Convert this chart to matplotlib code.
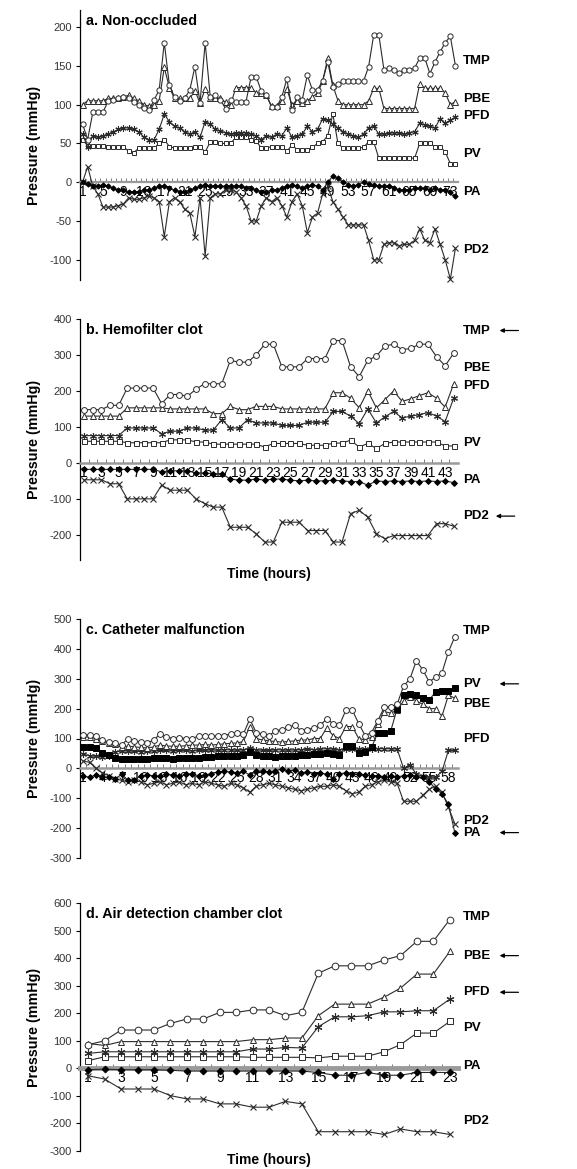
import matplotlib
matplotlib.use("Agg")
import matplotlib.pyplot as plt
import matplotlib.transforms as mtransforms

plt.rcParams['font.family'] = ['Liberation Sans', 'DejaVu Sans']

# ---------------- a. Non-occluded (74 hourly readings) ----------------
hours_a = list(range(1, 75))
tmp_a = [75, 55, 90, 90, 90, 105, 106, 108, 110, 108,
         104, 100, 96, 93, 106, 119, 180, 125, 110, 105,
         108, 119, 149, 102, 180, 110, 112, 106, 95, 106,
         103, 103, 104, 136, 136, 117, 112, 97, 97, 110,
         133, 93, 110, 106, 138, 119, 119, 131, 155, 123,
         127, 130, 130, 130, 130, 130, 149, 190, 190, 145,
         147, 145, 141, 145, 145, 147, 160, 160, 140, 155,
         168, 180, 188, 150]
pbe_a = [100, 105, 105, 105, 105, 108, 108, 108, 110, 112,
         108, 105, 100, 98, 100, 105, 148, 122, 108, 108,
         108, 108, 118, 102, 120, 108, 108, 108, 103, 100,
         122, 122, 122, 122, 115, 115, 112, 98, 98, 105,
         120, 100, 105, 102, 105, 110, 115, 130, 160, 125,
         105, 100, 100, 100, 100, 100, 105, 121, 121, 95,
         95, 95, 95, 95, 95, 95, 127, 121, 121, 121,
         121, 115, 100, 104]
pfd_a = [62, 45, 60, 58, 60, 62, 65, 68, 70, 70,
         68, 65, 58, 55, 55, 68, 88, 78, 72, 70,
         65, 62, 65, 58, 78, 75, 68, 66, 64, 62,
         63, 63, 64, 62, 60, 55, 60, 58, 62, 60,
         70, 58, 60, 62, 72, 65, 68, 82, 80, 75,
         70, 65, 62, 60, 58, 62, 70, 72, 62, 62,
         63, 64, 63, 62, 64, 65, 76, 74, 72, 70,
         82, 76, 80, 84]
pv_a = [55, 47, 47, 47, 47, 46, 46, 46, 46, 40,
        38, 44, 44, 44, 44, 50, 55, 46, 44, 44,
        44, 44, 46, 46, 39, 52, 52, 50, 50, 50,
        58, 58, 58, 55, 53, 44, 44, 46, 46, 46,
        40, 48, 42, 42, 42, 45, 50, 52, 60, 88,
        50, 44, 44, 44, 44, 45, 52, 52, 31, 31,
        31, 31, 31, 31, 31, 31, 50, 50, 50, 46,
        46, 39, 24, 24]
pa_a = [0, -2, -5, -5, -3, -5, -8, -10, -10, -12,
        -12, -12, -10, -10, -8, -5, -5, -8, -10, -12,
        -12, -10, -8, -5, -3, -5, -5, -5, -5, -5,
        -5, -5, -8, -8, -10, -12, -12, -10, -10, -8,
        -5, -3, -5, -8, -5, -3, -5, -10, 0, 8,
        5, 0, -3, -5, -3, 0, -2, -3, -5, -5,
        -5, -8, -10, -10, -10, -8, -8, -8, -10, -8,
        -10, -10, -12, -18]
pd2_a = [0, 20, -5, -15, -32, -32, -32, -30, -28, -20,
         -22, -22, -20, -18, -20, -25, -70, -25, -20, -25,
         -35, -40, -70, -20, -95, -20, -15, -15, -10, -10,
         -12, -20, -30, -50, -50, -30, -20, -25, -20, -30,
         -45, -25, -15, -30, -65, -45, -40, -15, -5, -25,
         -35, -45, -55, -55, -55, -55, -75, -100, -100, -80,
         -78, -78, -82, -80, -80, -75, -60, -75, -78, -60,
         -80, -100, -125, -85]

# ---------------- b. Hemofilter clot (44 readings) ----------------
hours_b = list(range(1, 45))
tmp_b = [148, 148, 148, 160, 160, 208, 208, 208, 208, 165,
         190, 190, 185, 205, 220, 220, 220, 285, 280, 280,
         300, 330, 330, 267, 267, 267, 290, 290, 290, 340,
         340, 267, 240, 285, 297, 325, 330, 315, 318, 330,
         330, 295, 270, 305]
pbe_b = [130, 130, 130, 130, 130, 153, 153, 153, 153, 153,
         150, 150, 150, 150, 150, 137, 137, 157, 148, 148,
         157, 157, 157, 150, 150, 150, 150, 150, 150, 195,
         195, 180, 153, 200, 153, 176, 200, 171, 178, 187,
         195, 180, 155, 220]
pfd_b = [76, 76, 76, 76, 76, 97, 97, 97, 97, 81,
         88, 88, 97, 97, 91, 91, 120, 97, 97, 120,
         111, 111, 111, 104, 104, 104, 113, 113, 113, 143,
         143, 130, 109, 150, 111, 128, 143, 125, 130, 134,
         140, 130, 115, 180]
pv_b = [60, 60, 60, 60, 60, 56, 56, 56, 56, 56,
        64, 64, 64, 58, 58, 52, 52, 52, 52, 52,
        52, 44, 54, 54, 54, 54, 49, 49, 49, 55,
        55, 63, 44, 54, 40, 54, 58, 58, 58, 58,
        58, 58, 47, 47]
pa_b = [-18, -18, -18, -18, -18, -18, -18, -18, -18, -25,
        -22, -22, -22, -28, -28, -30, -30, -45, -48, -48,
        -45, -48, -45, -45, -48, -50, -48, -50, -50, -48,
        -50, -52, -52, -62, -50, -52, -50, -52, -50, -52,
        -50, -52, -50, -55]
pd2_b = [-47, -47, -47, -58, -58, -100, -100, -100, -100, -62,
         -76, -76, -76, -100, -113, -123, -123, -179, -179, -179,
         -197, -220, -220, -165, -165, -165, -188, -188, -188, -220,
         -220, -141, -132, -151, -197, -211, -202, -202, -202, -202,
         -202, -169, -169, -176]

# ---------------- c. Catheter malfunction (59 readings) ----------------
hours_c = list(range(1, 60))
tmp_c = [112, 112, 108, 95, 88, 85, 78, 100, 92, 88,
         85, 95, 115, 105, 100, 102, 100, 98, 110, 108,
         110, 108, 110, 115, 118, 115, 165, 120, 115, 110,
         125, 130, 138, 145, 125, 130, 135, 145, 165, 150,
         145, 195, 195, 150, 110, 120, 160, 205, 205, 215,
         275, 300, 360, 330, 290, 305, 320, 390, 440]
pv_c = [70, 70, 68, 50, 45, 35, 32, 32, 32, 33,
        33, 35, 35, 35, 33, 34, 36, 35, 35, 38,
        38, 40, 40, 40, 42, 45, 55, 45, 42, 40,
        38, 40, 42, 42, 45, 45, 48, 48, 50, 48,
        45, 75, 75, 50, 55, 70, 120, 120, 125, 200,
        245, 248, 245, 235, 230, 255, 258, 260, 270]
pbe_c = [105, 105, 100, 90, 85, 80, 70, 75, 72, 70,
         68, 72, 78, 75, 74, 74, 76, 78, 78, 80,
         78, 80, 82, 84, 85, 90, 140, 100, 95, 92,
         90, 88, 90, 92, 95, 95, 100, 100, 135, 110,
         100, 140, 140, 100, 95, 105, 150, 190, 185, 195,
         225, 240, 225, 215, 200, 200, 175, 245, 235]
pfd_c = [48, 42, 40, 38, 40, 55, 58, 58, 57, 56,
         58, 58, 60, 60, 58, 60, 60, 58, 60, 60,
         62, 60, 62, 62, 60, 62, 68, 62, 60, 60,
         62, 62, 60, 62, 62, 64, 62, 64, 66, 64,
         62, 66, 66, 64, 65, 66, 66, 66, 65, 65,
         0, 12, -20, -25, -30, -30, -10, 60, 60]
pa_c = [-25, -30, -22, -30, -28, -35, -20, -40, -38, -25,
        -22, -25, -25, -20, -22, -25, -20, -18, -25, -22,
        -18, -12, -10, -12, -15, -10, -22, -10, -8, -12,
        -8, -2, -10, -5, -15, -12, -18, -15, -20, -35,
        -18, -15, -18, -20, -22, -25, -25, -28, -25, -28,
        -25, -23, -28, -30, -45, -68, -85, -120, -215]
pd2_c = [25, 20, 0, -15, -25, -35, -40, -45, -40, -45,
         -55, -50, -45, -55, -50, -45, -55, -50, -55, -45,
         -50, -55, -60, -50, -55, -65, -80, -60, -55, -50,
         -55, -60, -65, -70, -75, -70, -65, -60, -60, -55,
         -60, -75, -85, -80, -60, -55, -45, -40, -45, -50,
         -110, -110, -110, -90, -70, -60, -80, -130, -185]

# ---------------- d. Air detection chamber clot (23 readings) ----------------
hours_d = list(range(1, 24))
tmp_d = [86, 100, 139, 139, 139, 163, 179, 179, 203, 203,
         212, 212, 191, 203, 345, 372, 372, 372, 393, 409,
         461, 461, 540]
pbe_d = [90, 83, 97, 97, 97, 97, 97, 97, 97, 97,
         104, 104, 110, 110, 191, 233, 233, 233, 258, 291,
         342, 342, 424]
pfd_d = [54, 60, 60, 60, 60, 60, 60, 60, 60, 60,
         70, 70, 76, 74, 151, 187, 187, 191, 205, 205,
         209, 209, 251]
pv_d = [28, 42, 42, 42, 42, 42, 42, 42, 42, 42,
        40, 40, 40, 40, 38, 44, 44, 44, 60, 86,
        128, 128, 170]
pa_d = [-5, -3, -5, -5, -5, -7, -10, -10, -10, -10,
        -10, -10, -10, -10, -15, -25, -25, -15, -25, -25,
        -15, -15, -15]
pd2_d = [-27, -39, -75, -75, -75, -99, -111, -111, -129, -129,
         -141, -141, -120, -129, -230, -230, -230, -230, -240, -220,
         -230, -230, -240]

# ---------------- drawing ----------------
W, H = 577, 1169
fig = plt.figure(figsize=(W / 100, H / 100), dpi=100)

LINE = '#2b2b2b'
TICK = '#333333'


def add_axes(top_px, bottom_px, left_px=80, right_px=458):
    return fig.add_axes([left_px / W, 1 - bottom_px / H,
                         (right_px - left_px) / W, (bottom_px - top_px) / H])


def style(name, k=1.0):
    s = dict(color=LINE, lw=0.8, mec=LINE, mew=0.7)
    if name == 'TMP':
        s.update(marker='o', mfc='white', ms=4.2 * k)
    elif name == 'PBE':
        s.update(marker='^', mfc='white', ms=4.2 * k)
    elif name == 'PFD':
        s.update(marker=(6, 2, 0), mfc='none', ms=5 * k, mew=0.8)
    elif name == 'PV':
        s.update(marker='s', mfc='white', ms=3.6 * k)
    elif name == 'PVf':
        s.update(marker='s', mfc='black', mec='black', ms=3.8 * k)
    elif name == 'PA':
        s.update(marker='D', mfc='black', mec='black', ms=3.0 * k)
    elif name == 'PD2':
        s.update(marker='x', mfc='none', ms=4.2 * k, mew=0.8)
    return s


def setup(ax, hours, ylim, yticks, xstep, title, xlabel=None, zero_lw=1.8,
          xlabel_y=-0.03):
    n = len(hours)
    ax.set_xlim(0.5, n + 0.5)
    ax.set_ylim(*ylim)
    ax.set_yticks(yticks)
    ax.set_yticklabels([str(v) for v in yticks], fontsize=8, color=TICK)
    ax.set_xticks(hours[::xstep])
    ax.set_xticklabels([str(h) for h in hours[::xstep]], fontsize=8, color=TICK)
    ax.set_xticks([h + 0.5 for h in hours[:-1]], minor=True)
    ax.spines['top'].set_visible(False)
    ax.spines['right'].set_visible(False)
    ax.spines['left'].set_color('black')
    ax.spines['left'].set_linewidth(0.9)
    ax.spines['bottom'].set_position(('data', 0))
    ax.spines['bottom'].set_color('#9a9a9a')
    ax.spines['bottom'].set_linewidth(zero_lw)
    ax.tick_params(axis='y', length=3, width=0.8, pad=3)
    ax.tick_params(axis='x', which='major', length=0, pad=2)
    ax.tick_params(axis='x', which='minor', length=3, width=0.6,
                   direction='in', color='#666666')
    ax.text(0.015, 0.985, title, transform=ax.transAxes, fontsize=10.3,
            fontweight='bold', va='top', ha='left')
    ax.set_ylabel('Pressure (mmHg)', fontsize=10.3, fontweight='bold',
                  labelpad=6)
    if xlabel:
        ax.text(0.5, xlabel_y, xlabel, transform=ax.transAxes, ha='center',
                va='top', fontsize=10, fontweight='bold')


def series_labels(ax, labels, arrows=()):
    tr = mtransforms.blended_transform_factory(ax.transAxes, ax.transData)
    for name, y in labels:
        ax.text(1.013, y, name, transform=tr, fontsize=9.5, fontweight='bold',
                va='center', ha='left', clip_on=False)
    for y, x_tail in arrows:
        ax.annotate('', xy=(x_tail - 0.05, y), xytext=(x_tail, y),
                    xycoords=tr, textcoords=tr, annotation_clip=False,
                    arrowprops=dict(arrowstyle='-|>', lw=0.9, color='black',
                                    mutation_scale=6, shrinkA=0, shrinkB=0))


def draw(ax, hours, data, k=1.0):
    for name, vals in data:
        ax.plot(hours, vals, clip_on=False, zorder=3, **style(name, k))


# panel a
ax = add_axes(10, 280)
setup(ax, hours_a, (-126, 222), [-100, -50, 0, 50, 100, 150, 200], 4,
      'a. Non-occluded', zero_lw=1.6)
draw(ax, hours_a, [('PD2', pd2_a), ('PA', pa_a), ('PV', pv_a),
                   ('PFD', pfd_a), ('PBE', pbe_a), ('TMP', tmp_a)], k=0.9)
series_labels(ax, [('TMP', 156), ('PBE', 107), ('PFD', 85), ('PV', 36),
                   ('PA', -13), ('PD2', -87)])

# panel b
ax = add_axes(319, 560)
setup(ax, hours_b, (-270, 400), [-200, -100, 0, 100, 200, 300, 400], 2,
      'b. Hemofilter clot', xlabel='Time (hours)', xlabel_y=-0.03)
draw(ax, hours_b, [('PD2', pd2_b), ('PA', pa_b), ('PV', pv_b),
                   ('PFD', pfd_b), ('PBE', pbe_b), ('TMP', tmp_b)])
series_labels(ax, [('TMP', 368), ('PBE', 265), ('PFD', 214), ('PV', 56),
                   ('PA', -47), ('PD2', -148)],
              arrows=[(368, 1.16), (-148, 1.15)])

# panel c
ax = add_axes(619, 858)
setup(ax, hours_c, (-300, 500), [-300, -200, -100, 0, 100, 200, 300, 400, 500], 3,
      'c. Catheter malfunction')
draw(ax, hours_c, [('PD2', pd2_c), ('PFD', pfd_c), ('PA', pa_c),
                   ('PBE', pbe_c), ('PVf', pv_c), ('TMP', tmp_c)])
series_labels(ax, [('TMP', 459), ('PV', 283), ('PBE', 214), ('PFD', 97),
                   ('PD2', -177), ('PA', -215)],
              arrows=[(283, 1.16), (-215, 1.16)])

# panel d
ax = add_axes(903, 1151)
setup(ax, hours_d, (-300, 600), [-300, -200, -100, 0, 100, 200, 300, 400, 500, 600], 2,
      'd. Air detection chamber clot', xlabel='Time (hours)', zero_lw=3.5,
      xlabel_y=-0.008)
draw(ax, hours_d, [('PD2', pd2_d), ('PA', pa_d), ('PV', pv_d),
                   ('PFD', pfd_d), ('PBE', pbe_d), ('TMP', tmp_d)], k=1.15)
series_labels(ax, [('TMP', 550), ('PBE', 409), ('PFD', 276), ('PV', 146),
                   ('PA', 10), ('PD2', -190)],
              arrows=[(409, 1.16), (276, 1.16)])

fig.savefig('out.png', dpi=100)
